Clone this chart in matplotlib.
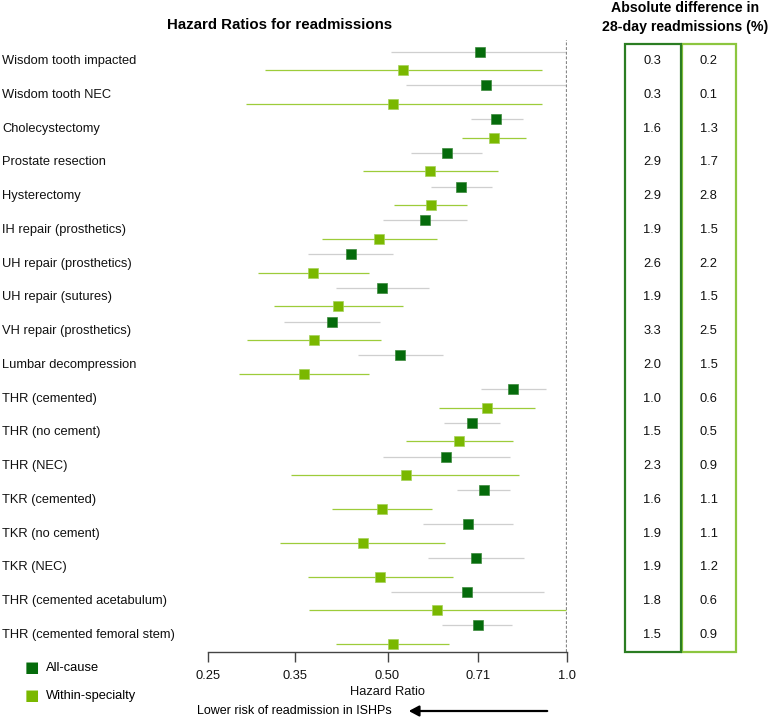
import matplotlib
matplotlib.use("Agg")
import matplotlib.pyplot as plt
import matplotlib.transforms as mtransforms
from matplotlib.patches import Rectangle
from matplotlib.ticker import FixedLocator, FixedFormatter, NullLocator

plt.rcParams['font.family'] = ['Liberation Sans', 'DejaVu Sans']

procedures = ["Wisdom tooth impacted", "Wisdom tooth NEC", "Cholecystectomy",
              "Prostate resection", "Hysterectomy", "IH repair (prosthetics)",
              "UH repair (prosthetics)", "UH repair (sutures)", "VH repair (prosthetics)",
              "Lumbar decompression", "THR (cemented)", "THR (no cement)", "THR (NEC)",
              "TKR (cemented)", "TKR (no cement)", "TKR (NEC)",
              "THR (cemented acetabulum)", "THR (cemented femoral stem)"]

all_hr = [0.714, 0.731, 0.761, 0.628, 0.665, 0.579, 0.434, 0.490, 0.404, 0.525,
          0.812, 0.692, 0.627, 0.725, 0.682, 0.704, 0.680, 0.709]
all_lo = [0.507, 0.536, 0.690, 0.548, 0.591, 0.492, 0.368, 0.410, 0.335, 0.447,
          0.717, 0.623, 0.492, 0.655, 0.574, 0.585, 0.507, 0.616]
all_hi = [1.00, 1.00, 0.843, 0.721, 0.748, 0.680, 0.511, 0.588, 0.485, 0.619,
          0.921, 0.772, 0.801, 0.802, 0.812, 0.847, 0.914, 0.808]

ws_hr = [0.531, 0.511, 0.754, 0.590, 0.591, 0.484, 0.375, 0.413, 0.377, 0.362,
         0.735, 0.659, 0.536, 0.489, 0.454, 0.486, 0.605, 0.510]
ws_lo = [0.311, 0.289, 0.667, 0.455, 0.513, 0.388, 0.303, 0.322, 0.291, 0.282,
         0.611, 0.536, 0.345, 0.404, 0.330, 0.368, 0.369, 0.410]
ws_hi = [0.909, 0.907, 0.855, 0.766, 0.680, 0.605, 0.466, 0.530, 0.488, 0.466,
         0.885, 0.812, 0.832, 0.594, 0.624, 0.643, 0.996, 0.635]

abs_all = ["0.3", "0.3", "1.6", "2.9", "2.9", "1.9", "2.6", "1.9", "3.3", "2.0",
           "1.0", "1.5", "2.3", "1.6", "1.9", "1.9", "1.8", "1.5"]
abs_ws = ["0.2", "0.1", "1.3", "1.7", "2.8", "1.5", "2.2", "1.5", "2.5", "1.5",
          "0.6", "0.5", "0.9", "1.1", "1.1", "1.2", "0.6", "0.9"]

tick_vals = [0.25, 0.35, 0.50, 0.71, 1.0]
tick_labels = ["0.25", "0.35", "0.50", "0.71", "1.0"]

DARK = '#056b0b'
LIGHT = '#7ab800'
GRAY_CI = '#cfcfcf'
LIGHT_CI = '#9dcc3a'

W, H = 774, 718
fig = plt.figure(figsize=(W / 100, H / 100), dpi=100)

def fx(p):
    return p / W

def fy(p):
    return 1 - p / H

row0, rowstep = 61.0, 33.76

def prow(p):
    return (p - row0) / rowstep

# main forest axes
ax_top, ax_bot = 40.0, 651.7
ax = fig.add_axes([fx(208), fy(ax_bot), fx(567) - fx(208), (ax_bot - ax_top) / H])
ax.set_xscale('log')
ax.set_xlim(0.25, 1.0)
ax.set_ylim(prow(ax_bot), prow(ax_top))

off_a, off_w = -0.28, 0.27
for i in range(len(procedures)):
    ya = i + off_a
    yw = i + off_w
    ax.plot([all_lo[i], all_hi[i]], [ya, ya], color=GRAY_CI, lw=0.9, zorder=1, solid_capstyle='butt')
    ax.plot([ws_lo[i], ws_hi[i]], [yw, yw], color=LIGHT_CI, lw=0.9, zorder=1, solid_capstyle='butt')
    ax.plot(all_hr[i], ya, marker='s', ms=6.6, color=DARK, mec='#3d8a3d', mew=0.5, zorder=3)
    ax.plot(ws_hr[i], yw, marker='s', ms=6.6, color=LIGHT, mec='#a6d25a', mew=0.5, zorder=3)

ax.axvline(1.0, color='#888888', lw=1.6, ls=(0, (1.3, 0.8)), zorder=2)

for s in ['top', 'left', 'right']:
    ax.spines[s].set_visible(False)
ax.spines['bottom'].set_color('#444444')
ax.spines['bottom'].set_linewidth(1.0)
ax.set_yticks([])
ax.xaxis.set_major_locator(FixedLocator(tick_vals))
ax.xaxis.set_major_formatter(FixedFormatter(tick_labels))
ax.xaxis.set_minor_locator(NullLocator())
ax.tick_params(axis='x', direction='out', length=7.5, width=1.0, color='#444444',
               labelsize=9.3, pad=6, labelcolor='#111111')
ax.set_xlabel("Hazard Ratio", fontsize=9.3, labelpad=2.5, color='#111111')
ax.patch.set_alpha(0)

# row labels
trans = mtransforms.blended_transform_factory(fig.transFigure, ax.transData)
for i, name in enumerate(procedures):
    ax.text(fx(2), i, name, transform=trans, ha='left', va='center', fontsize=9.3,
            color='#111111', clip_on=False)

# titles
fig.text(fx(280), fy(25), "Hazard Ratios for readmissions", ha='center', va='center',
         fontsize=10.8, fontweight='bold')
fig.text(fx(685), fy(8), "Absolute difference in", ha='center', va='center',
         fontsize=10.2, fontweight='bold')
fig.text(fx(685), fy(27), "28-day readmissions (%)", ha='center', va='center',
         fontsize=10.2, fontweight='bold')

# legend
fig.text(fx(31.7), fy(668), "\u25A0", ha='center', va='center', fontsize=11, color=DARK,
         family='DejaVu Sans')
fig.text(fx(31.7), fy(695.7), "\u25A0", ha='center', va='center', fontsize=11, color=LIGHT,
         family='DejaVu Sans')
fig.text(fx(46), fy(668), "All-cause", ha='left', va='center', fontsize=9.3)
fig.text(fx(46), fy(695.7), "Within-specialty", ha='left', va='center', fontsize=9.3)

# arrow note
fig.text(fx(391.5), fy(711), "Lower risk of readmission in ISHPs", ha='right', va='center',
         fontsize=9.0)
fig.add_artist(matplotlib.patches.FancyArrowPatch(
    (fx(550), fy(711)), (fx(406), fy(711)), transform=fig.transFigure,
    arrowstyle='-|>,head_length=6,head_width=3.2', color='black', lw=1.6))

# table
t_top, t_bot = 43.0, 653.0
tax = fig.add_axes([fx(624), fy(t_bot), fx(737) - fx(624), (t_bot - t_top) / H])
tax.set_xlim(0, 1)
tax.set_ylim(prow(t_bot), prow(t_top))
tax.axis('off')
tax.add_patch(Rectangle((0.51, 0.002), 0.48, 0.996, transform=tax.transAxes, fill=False,
                        ec='#8cc63f', lw=1.6, clip_on=False))
tax.add_patch(Rectangle((0.01, 0.002), 0.49, 0.996, transform=tax.transAxes, fill=False,
                        ec='#2b7d22', lw=1.6, clip_on=False))
for i in range(len(procedures)):
    tax.text(0.25, i, abs_all[i], ha='center', va='center', fontsize=9.3, color='#111111')
    tax.text(0.75, i, abs_ws[i], ha='center', va='center', fontsize=9.3, color='#111111')

fig.savefig("out.png", dpi=100)
